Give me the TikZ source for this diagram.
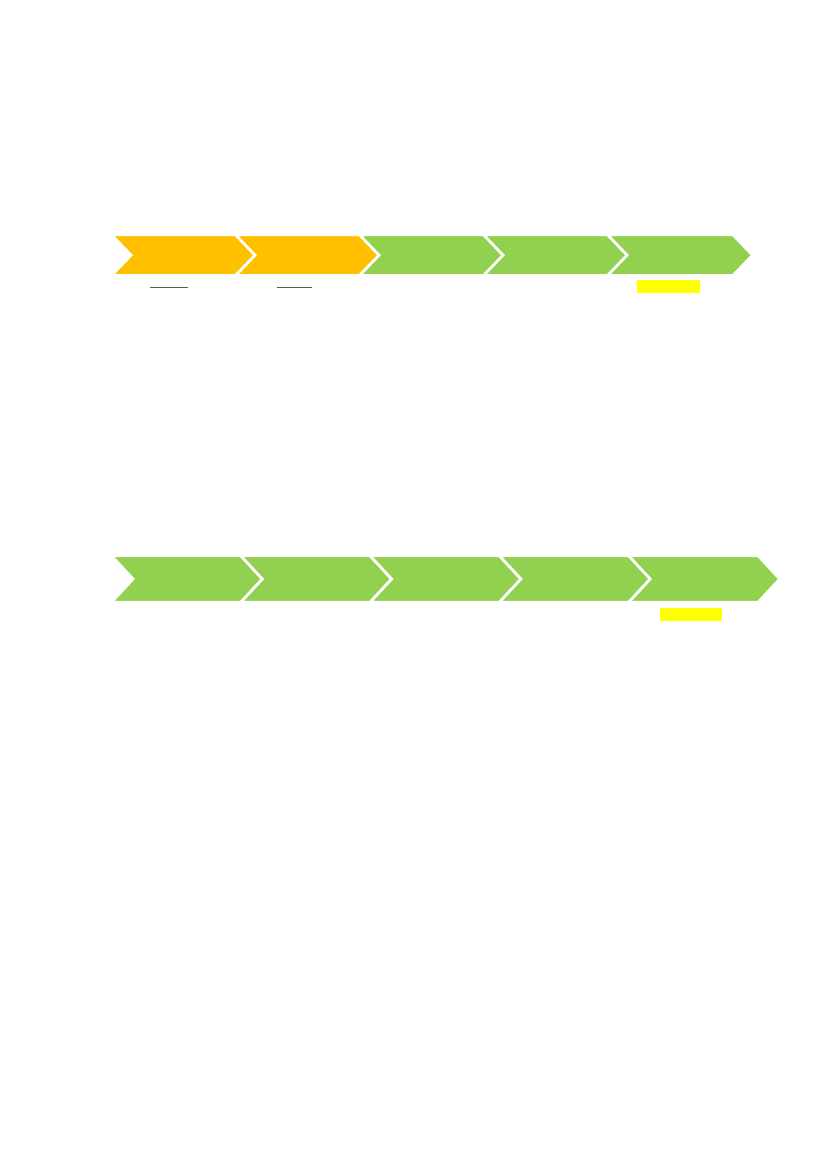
\documentclass[tikz,border=0pt]{standalone}
\usepackage{tikz}
\usetikzlibrary{positioning}
\definecolor{stepOrange}{HTML}{FFC000}
\definecolor{stepGreen}{HTML}{92D050}
\definecolor{markYellow}{HTML}{FFFF00}
\definecolor{markGray}{HTML}{595959}
\tikzset{
  chevron line/.style={
    draw=white,
    line width=2pt,
    line join=miter
  },
  small chevron/.pic={
    \path[pic actions] (0,0) -- (125.5,0) -- (145,20.35) -- (125.5,40.7)
      -- (0,40.7) -- (19.5,20.35) -- cycle;
  },
  big chevron/.pic={
    \path[pic actions] (0,0) -- (129.5,0) -- (151,23.2) -- (129.5,46.4)
      -- (0,46.4) -- (21.5,23.2) -- cycle;
  },
  yellow mark/.style={
    fill=markYellow,
    draw=none
  },
  gray mark/.style={
    draw=markGray,
    line width=0.9pt
  }
}

\begin{document}
\begin{tikzpicture}[x=0.7198pt, y=-0.7198pt]
 \useasboundingbox (0,0) rectangle (827,1170);

 % upper row
 \pic[fill=stepOrange, chevron line] at (111.5,234.8) {small chevron};
 \pic[fill=stepOrange, chevron line] at (235.5,234.8) {small chevron};
 \pic[fill=stepGreen, chevron line] at (359.5,234.8) {small chevron};
 \pic[fill=stepGreen, chevron line] at (483.5,234.8) {small chevron};
 \pic[fill=stepGreen, chevron line] at (607.5,234.8) {small chevron};

 \draw[gray mark] (150,287.3) -- (187.7,287.3);
 \draw[gray mark] (276.7,287.7) -- (311.7,287.7);
 \fill[yellow mark] (637.3,280) rectangle (700,293.3);

 % lower row
 \pic[fill=stepGreen, chevron line] at (111.5,555.8) {big chevron};
 \pic[fill=stepGreen, chevron line] at (240.8,555.8) {big chevron};
 \pic[fill=stepGreen, chevron line] at (370.1,555.8) {big chevron};
 \pic[fill=stepGreen, chevron line] at (499.4,555.8) {big chevron};
 \pic[fill=stepGreen, chevron line] at (628.7,555.8) {big chevron};

 \fill[yellow mark] (660,607.7) rectangle (722.3,621);
\end{tikzpicture}
\end{document}
